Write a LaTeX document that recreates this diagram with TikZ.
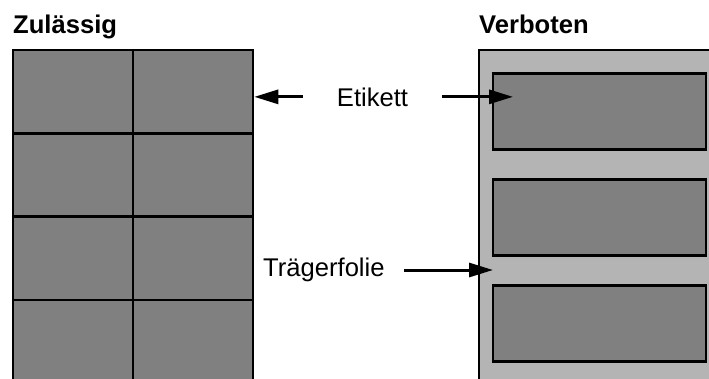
\documentclass[tikz,border=0pt]{standalone}
\usepackage{fontspec}
\setmainfont{Liberation Sans}
\usetikzlibrary{arrows.meta}
\definecolor{cdark}{HTML}{808080}
\definecolor{clight}{HTML}{B4B4B4}

\begin{document}
\begin{tikzpicture}[
  x=1pt, y=-1pt,
  font=\fontsize{25.6}{30}\selectfont,
  title/.style={font=\fontsize{25.6}{30}\selectfont\bfseries, anchor=base west, inner sep=0pt},
  lbl/.style={anchor=base, inner sep=0pt},
  cell/.style={draw=black, fill=cdark, line width=2.6pt, minimum width=120pt, minimum height=83.3pt, inner sep=0pt},
  etk/.style={draw=black, fill=cdark, line width=2.4pt, minimum width=213pt, minimum height=76pt, inner sep=0pt},
  arr/.style={-{Triangle[length=24pt,width=14pt]}, line width=3pt},
]
\useasboundingbox (0,0) rectangle (709,378);

% =================== Zulaessig ===================
\node[title] (zul) at (13,33) {Zulässig};
\foreach \r in {0,1,2,3} \foreach \c in {0,1} {
  \node[cell] (cell\r\c) at (73+120*\c, 91.7+83.3*\r) {};
}

% =================== Verboten ===================
\node[title] (verb) at (479,33) {Verboten};
\draw[draw=black, fill=clight, line width=2.6pt] (479,50) rectangle (730,400);
\foreach \r in {1,2,3} {
  \node[etk] (etk\r) at (599.5, 5.5+106*\r) {};
}

% =================== labels ===================
\node[lbl, inner xsep=34pt] (etikett) at (372.5,106) {Etikett};
\node[lbl, anchor=base west] (traeger) at (263,276) {Trägerfolie};
\coordinate (tipE) at (513,96);
\coordinate (tipT) at (493,270);
\draw[arr] (etikett.west) -- (etikett.west -| cell01.east);
\draw[arr] (etikett.east) -- (etikett.east -| tipE);
\draw[arr, shorten <=19pt] (traeger.east |- tipT) -- (tipT);
\end{tikzpicture}
\end{document}
